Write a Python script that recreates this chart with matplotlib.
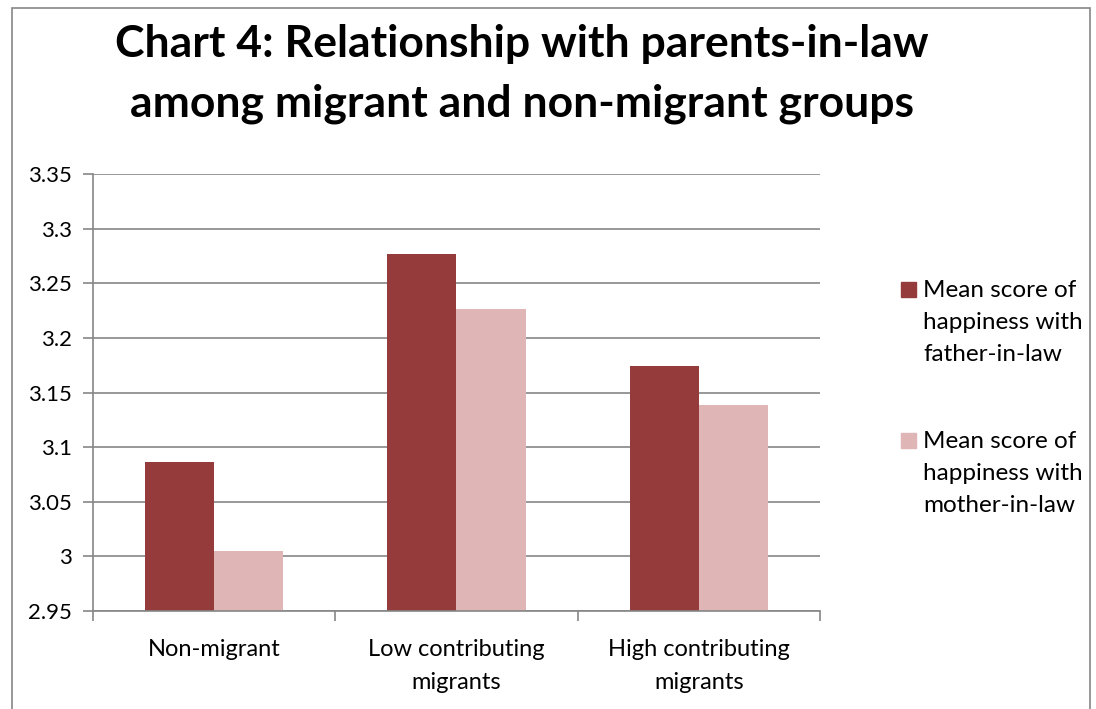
import numpy as np
import matplotlib.pyplot as plt
from matplotlib.patches import Rectangle

categories = ["Non-migrant", "Low contributing\nmigrants", "High contributing\nmigrants"]
father = [3.086, 3.277, 3.174]
mother = [3.005, 3.226, 3.139]
labels = ["Mean score of\nhappiness with\nfather-in-law", "Mean score of\nhappiness with\nmother-in-law"]
yticks = [2.95, 3.0, 3.05, 3.1, 3.15, 3.2, 3.25, 3.3, 3.35]
ytick_labels = ["2.95", "3", "3.05", "3.1", "3.15", "3.2", "3.25", "3.3", "3.35"]

plt.rcParams['font.family'] = ['Lato', 'DejaVu Sans']
grey = '#868686'

fig = plt.figure(figsize=(10.96, 7.09), dpi=100)
ax = fig.add_axes([0.0849, 0.1382, 0.6632, 0.6164])

# outer chart border
fig.patches.append(Rectangle((12 / 1096, -0.01), 1078 / 1096, 1 - 8 / 709 + 0.01,
                             transform=fig.transFigure, fill=False, edgecolor=grey, lw=1.2))

x = np.arange(len(categories))
w = 0.285
ax.bar(x - w / 2, father, w, color='#953B3B', label=labels[0])
ax.bar(x + w / 2, mother, w, color='#DFB5B5', label=labels[1])

ax.set_xlim(-0.5, 2.5)
ax.set_ylim(2.95, 3.35)
ax.set_yticks(yticks)
ax.set_yticklabels(ytick_labels, fontsize=16)
ax.yaxis.grid(True, color=grey, lw=1.2)
ax.set_axisbelow(True)

ax.set_xticks([-0.5, 0.5, 1.5, 2.5])
ax.set_xticklabels([])
ax.set_xticks(x, minor=True)
ax.set_xticklabels(categories, minor=True, fontsize=17, linespacing=1.7)
ax.tick_params(axis='x', which='minor', length=0, pad=20)
ax.tick_params(axis='x', which='major', length=7, color=grey, width=1.2, direction='out')
ax.tick_params(axis='y', length=7, color=grey, width=1.2, direction='out', pad=8)

for s in ['top', 'right']:
    ax.spines[s].set_visible(False)
for s in ['left', 'bottom']:
    ax.spines[s].set_color(grey)
    ax.spines[s].set_linewidth(1.2)

fig.text(0.476, 1 - 57 / 709, "Chart 4: Relationship with parents-in-law", ha='center',
         va='baseline', fontsize=32, fontweight='bold')
fig.text(0.476, 1 - 117 / 709, "among migrant and non-migrant groups", ha='center',
         va='baseline', fontsize=32, fontweight='bold')

# legend: square beside the first line of each wrapped label
handles, leg_labels = ax.get_legend_handles_labels()
leg_x = 901 / 1096
leg_tops = [280, 431]
for h, lab, top in zip(handles, leg_labels, leg_tops):
    color = h.patches[0].get_facecolor()
    fig.patches.append(Rectangle((leg_x, 1 - (top + 17) / 709), 15 / 1096, 15 / 709,
                                 transform=fig.transFigure, color=color))
    fig.text(923 / 1096, 1 - top / 709, lab, ha='left', va='top', fontsize=17.5,
             linespacing=1.65)

fig.savefig("out.png", dpi=100)
